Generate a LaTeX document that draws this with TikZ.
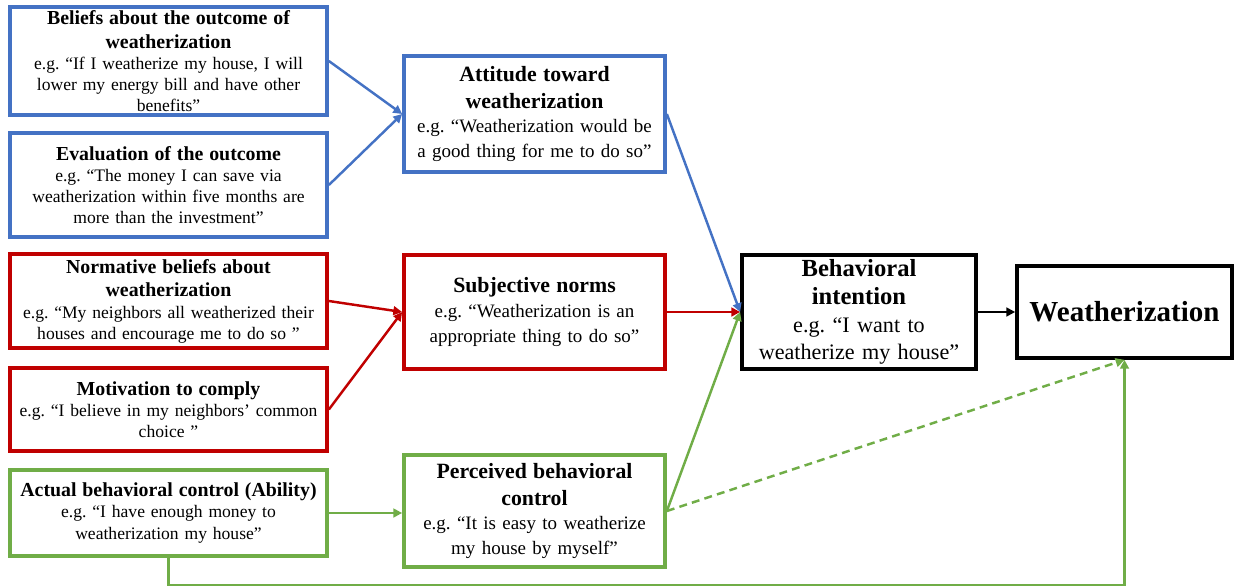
\documentclass[tikz,border=0pt]{standalone}
\usepackage{fontspec}
\setmainfont{Liberation Serif}
\usepackage{xcolor}
\usepackage{tikz}
\usetikzlibrary{arrows.meta, positioning}
\definecolor{tpbblue}{RGB}{68, 114, 196}
\definecolor{tpbred}{RGB}{192, 0, 0}
\definecolor{tpbgreen}{RGB}{112, 173, 71}
\frenchspacing

\newcommand{\lefttitle}[1]{{\fontsize{11.3}{13.6}\selectfont\bfseries #1\par}}
\newcommand{\midtitle}[1]{{\fontsize{12.4}{15}\selectfont\bfseries #1\par}}

\tikzset{
    box/.style={draw, line width=2.1pt, align=center, inner sep=2pt},
    leftbox/.style={box, text width=6.2cm, minimum width=6.34cm, font=\fontsize{10}{12}\selectfont},
    midbox/.style={box, text width=5.08cm, minimum width=5.22cm, font=\fontsize{10.8}{14}\selectfont},
    link/.style={line width=1.4pt, -{Triangle[length=5pt, width=5pt]}},
}

\begin{document}
\begin{tikzpicture}
    \useasboundingbox (0,0) rectangle (24.7,-11.72);

    % Attitude branch
    \node[leftbox, draw=tpbblue, minimum height=2.16cm] (belief) at (3.37,-1.22)
        {\lefttitle{Beliefs about the outcome of\\weatherization}e.g. “If I weatherize my house, I will\\lower my energy bill and have other\\benefits”};
    \node[leftbox, draw=tpbblue, minimum height=2.08cm] (evaluation) at (3.37,-3.70)
        {\lefttitle{Evaluation of the outcome}e.g. “The money I can save via\\weatherization within five months are\\more than the investment”};
    \node[midbox, draw=tpbblue, minimum height=2.32cm] (attitude) at (10.69,-2.28)
        {\midtitle{Attitude toward\\weatherization}e.g. “Weatherization would be\\a good thing for me to do so”};

    % Norms branch
    \node[leftbox, draw=tpbred, minimum height=1.88cm] (normative) at (3.37,-6.02)
        {\lefttitle{Normative beliefs about\\weatherization}e.g. “My neighbors all weatherized their\\houses and encourage me to do so ”};
    \node[leftbox, draw=tpbred, minimum height=1.66cm] (motivation) at (3.37,-8.19)
        {\lefttitle{Motivation to comply}e.g. “I believe in my neighbors’ common\\choice ”};
    \node[midbox, draw=tpbred, minimum height=2.28cm] (norms) at (10.69,-6.24)
        {\midtitle{Subjective norms}e.g. “Weatherization is an\\appropriate thing to do so”};

    % Control branch
    \node[leftbox, draw=tpbgreen, minimum height=1.72cm] (actual) at (3.37,-10.26)
        {\lefttitle{Actual behavioral control (Ability)}e.g. “I have enough money to\\weatherization my house”};
    \node[midbox, draw=tpbgreen, minimum height=2.24cm] (perceived) at (10.69,-10.22)
        {\midtitle{Perceived behavioral\\control}e.g. “It is easy to weatherize\\my house by myself”};

    % Intention and behavior
    \node[box, text width=4.54cm, minimum width=4.68cm, minimum height=2.28cm,
          font=\fontsize{12.6}{15.5}\selectfont] (intention) at (17.18,-6.24)
        {{\fontsize{14}{16}\selectfont\bfseries Behavioral\\intention\par}e.g. “I want to\\weatherize my house”};
    \node[box, minimum width=4.3cm, minimum height=1.84cm,
          font=\fontsize{16.5}{18}\selectfont\bfseries] (behavior) at (22.49,-6.24) {Weatherization};

    % Arrows
    \foreach \src in {belief, evaluation} {
        \draw[link, tpbblue] (\src.east) -- (attitude.west);
    }
    \foreach \src in {normative, motivation} {
        \draw[link, tpbred] (\src.east) -- (norms.west);
    }
    \draw[link, tpbblue] (attitude.east) -- (intention.west);
    \draw[link, tpbred] (norms.east) -- (intention.west);
    \draw[link, tpbgreen] (perceived.east) -- (intention.west);
    \draw[link, tpbgreen] (actual.east) -- (actual.east -| perceived.west);
    \draw[link, tpbgreen, dash pattern=on 4.5pt off 3pt] (perceived.east) -- (behavior.south);
    \draw[link, tpbgreen] (actual.south) -- ++(0,-0.54) -| (behavior.south);
    \draw[link, black] (intention.east) -- (behavior.west);
\end{tikzpicture}
\end{document}
